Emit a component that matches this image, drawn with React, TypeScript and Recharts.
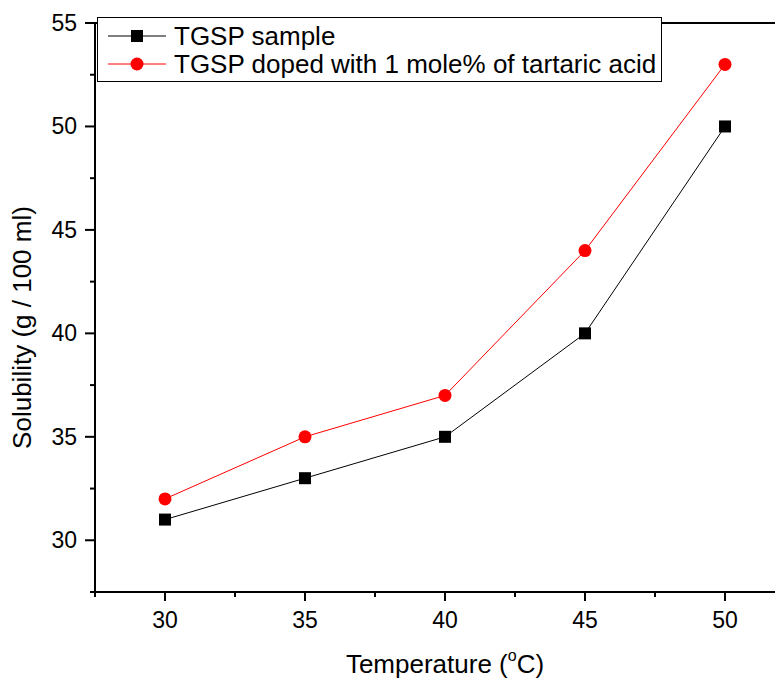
import React from "react";
import { LineChart, Line, XAxis, YAxis, Legend, ReferenceLine } from "recharts";

const temperatures = [30, 35, 40, 45, 50];
const pureSample = [31, 33, 35, 40, 50];
const dopedSample = [32, 35, 37, 44, 53];

const xTicks = [27.5, 30, 32.5, 35, 37.5, 40, 42.5, 45, 47.5, 50, 52.5];
const yTicks = [27.5, 30, 32.5, 35, 37.5, 40, 42.5, 45, 47.5, 50, 52.5, 55];

const seriesNames = ["TGSP sample", "TGSP doped with 1 mole% of tartaric acid"];

const data = temperatures.map((t, i) => ({
  temp: t,
  pure: pureSample[i],
  doped: dopedSample[i],
}));

const FONT = "'Liberation Sans', Arial, sans-serif";

const XTick = (props: any) => {
  const { x, y, payload } = props;
  const major = payload.value % 5 === 0;
  return (
    <g>
      <line x1={x} y1={y} x2={x} y2={y + (major ? 9 : 5)} stroke="#000" strokeWidth={2} />
      {major && (
        <text x={x} y={y + 36} textAnchor="middle" fontSize={23} fontFamily={FONT} fill="#000">
          {payload.value}
        </text>
      )}
    </g>
  );
};

const YTick = (props: any) => {
  const { x, y, payload } = props;
  const major = payload.value % 5 === 0;
  return (
    <g>
      <line x1={x} y1={y} x2={x - (major ? 10 : 5)} y2={y} stroke="#000" strokeWidth={2} />
      {major && (
        <text x={x - 18} y={y + 8} textAnchor="end" fontSize={23} fontFamily={FONT} fill="#000">
          {payload.value}
        </text>
      )}
    </g>
  );
};

const SquareDot = (props: any) => {
  const { cx, cy, index } = props;
  return <rect key={`sq-${index}`} x={cx - 6} y={cy - 6} width={12} height={12} fill="#000" />;
};

const CircleDot = (props: any) => {
  const { cx, cy, index } = props;
  return <circle key={`ci-${index}`} cx={cx} cy={cy} r={6.5} fill="#ff0000" />;
};

const XLabel = (props: any) => {
  const { viewBox } = props;
  return (
    <text
      x={viewBox.x + viewBox.width / 2}
      y={viewBox.y + 81}
      textAnchor="middle"
      fontSize={26}
      fontFamily={FONT}
      fill="#000"
    >
      <tspan>Temperature (</tspan>
      <tspan fontSize={16} dy={-12}>o</tspan>
      <tspan dy={12}>C)</tspan>
    </text>
  );
};

const YLabel = (props: any) => {
  const { viewBox } = props;
  const cx = viewBox.x + 23;
  const cy = viewBox.y + viewBox.height / 2 + 20;
  return (
    <text
      x={cx}
      y={cy}
      transform={`rotate(-90, ${cx}, ${cy})`}
      textAnchor="middle"
      fontSize={26}
      fontFamily={FONT}
      fill="#000"
    >
      Solubility (g / 100 ml)
    </text>
  );
};

const LegendBox = () => (
  <div
    style={{
      background: "#fff",
      border: "1.5px solid #000",
      width: 563,
      height: 63,
      fontFamily: FONT,
      fontSize: 26,
      position: "relative",
    }}
  >
    {seriesNames.map((name, i) => (
      <div
        key={name}
        style={{
          position: "absolute",
          left: 0,
          top: 4 + i * 28,
          height: 28,
          display: "flex",
          alignItems: "center",
          whiteSpace: "nowrap",
          lineHeight: "28px",
        }}
      >
        <svg width={76} height={28} style={{ flex: "none" }}>
          <line x1={10} y1={14} x2={68} y2={14} stroke={i === 0 ? "#000" : "#ff0000"} strokeWidth={1} />
          {i === 0 ? (
            <rect x={33} y={8} width={12} height={12} fill="#000" />
          ) : (
            <circle cx={39} cy={14} r={6.5} fill="#ff0000" />
          )}
        </svg>
        <span>{name}</span>
      </div>
    ))}
  </div>
);

export default function App() {
  return (
    <div style={{ width: 775, height: 674, overflow: "hidden", position: "relative" }}>
      <LineChart
        width={800}
        height={674}
        data={data}
        margin={{ top: 15, right: 13, left: 0, bottom: 60 }}
      >
        <XAxis
          dataKey="temp"
          type="number"
          domain={[27.5, 52.5]}
          ticks={xTicks}
          interval={0}
          tick={<XTick />}
          tickLine={false}
          tickSize={0}
          tickMargin={0}
          height={30}
          axisLine={{ stroke: "#000", strokeWidth: 2 }}
          label={<XLabel />}
        />
        <YAxis
          type="number"
          domain={[27.5, 55]}
          ticks={yTicks}
          interval={0}
          tick={<YTick />}
          tickLine={false}
          tickSize={0}
          tickMargin={0}
          width={87}
          axisLine={{ stroke: "#000", strokeWidth: 2 }}
          label={<YLabel />}
        />
        <ReferenceLine y={55} stroke="#000" strokeWidth={2} />
        <Line
          dataKey="pure"
          name={seriesNames[0]}
          stroke="#000"
          strokeWidth={1}
          dot={<SquareDot />}
          activeDot={false}
          isAnimationActive={false}
        />
        <Line
          dataKey="doped"
          name={seriesNames[1]}
          stroke="#ff0000"
          strokeWidth={1}
          dot={<CircleDot />}
          activeDot={false}
          isAnimationActive={false}
        />
        <Legend
          layout="vertical"
          verticalAlign="middle"
          align="center"
          content={<LegendBox />}
          wrapperStyle={{ top: 9, left: 89, width: 566, height: 66 }}
        />
      </LineChart>
    </div>
  );
}
